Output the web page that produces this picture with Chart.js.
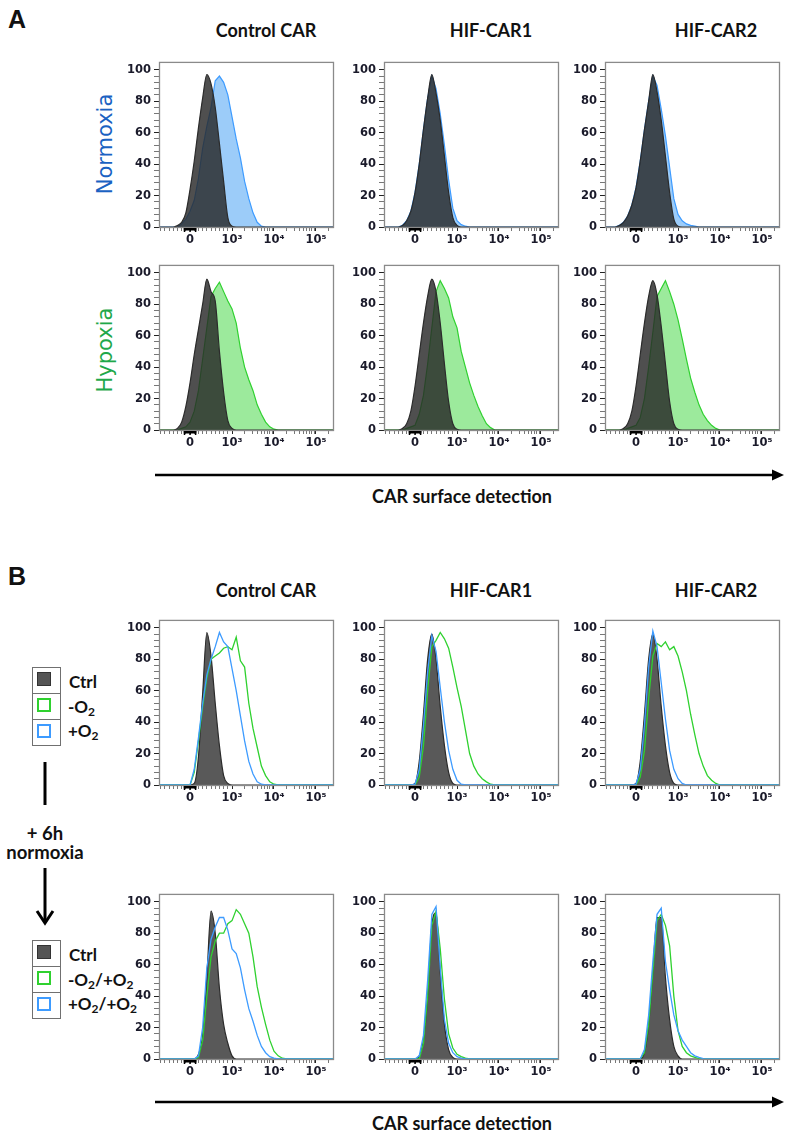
<!DOCTYPE html>
<html>
<head>
<meta charset="utf-8">
<script src="https://cdn.jsdelivr.net/npm/chart.js@4.4.0/dist/chart.umd.min.js"></script>
<style>
  body { margin: 0; background: #fff; }
  #page { position: relative; width: 787px; height: 1133px; background: #fff; overflow: hidden; }
  .t { position: absolute; white-space: nowrap; color: #111; font-family: Lato, "Open Sans", sans-serif; font-weight: bold; }
  .mid { transform: translate(-50%, -50%); }
  .left { transform: translateY(-50%); }
  .letter { font-family: "Liberation Sans", Arial, sans-serif; font-size: 25px; }
  .col { font-size: 18px; }
  .side { font-family: "DejaVu Sans", sans-serif; font-weight: normal; font-size: 21px; transform: translate(-50%, -50%) rotate(-90deg); }
  .leg { font-size: 17px; }
  .leg sub { font-size: 12px; vertical-align: -3px; }
  .note { font-size: 18.5px; }
  .box { position: absolute; width: 27px; border: 1.5px solid #707070; background: #fff; }
  .cell { position: relative; height: 25px; border-top: 1.5px solid #707070; }
  .cell:first-child { border-top: none; }
  .sq { position: absolute; left: 4px; top: 4px; width: 14px; height: 14px; box-sizing: border-box; }
</style>
</head>
<body>
<div id="page">
  <svg width="787" height="1133" style="position:absolute;left:0;top:0">
    <line x1="155" y1="475" x2="776" y2="475" stroke="#000" stroke-width="2.5"/>
    <polygon points="772,469.5 784,475 772,480.5" fill="#000"/>
    <line x1="155" y1="1102" x2="776" y2="1102" stroke="#000" stroke-width="2.5"/>
    <polygon points="772,1096.5 784,1102 772,1107.5" fill="#000"/>
    <line x1="45" y1="762" x2="45" y2="805" stroke="#000" stroke-width="3"/>
    <line x1="45" y1="868" x2="45" y2="922" stroke="#000" stroke-width="3"/>
    <polyline points="37,911 45,923 53,911" fill="none" stroke="#000" stroke-width="3"/>
  </svg>

  <div class="t letter" style="left:8px;top:5px">A</div>
  <div class="t letter" style="left:8px;top:562px">B</div>

  <div class="t col mid" style="left:266px;top:30px">Control CAR</div>
  <div class="t col mid" style="left:491px;top:30px">HIF-CAR1</div>
  <div class="t col mid" style="left:716px;top:30px">HIF-CAR2</div>
  <div class="t col mid" style="left:266px;top:590px">Control CAR</div>
  <div class="t col mid" style="left:491px;top:590px">HIF-CAR1</div>
  <div class="t col mid" style="left:716px;top:590px">HIF-CAR2</div>

  <div class="t side" style="left:105px;top:144px;color:#1a62c2">Normoxia</div>
  <div class="t side" style="left:105px;top:350px;color:#1fa84a">Hypoxia</div>

  <div class="t col mid" style="left:462px;top:496px">CAR surface detection</div>
  <div class="t col mid" style="left:462px;top:1123px">CAR surface detection</div>

  <div class="box" style="left:32px;top:667px">
    <div class="cell"><div class="sq" style="background:#555;border:1.5px solid #333"></div></div>
    <div class="cell"><div class="sq" style="border:2px solid #2fd12f"></div></div>
    <div class="cell"><div class="sq" style="border:2px solid #3d9bff"></div></div>
  </div>
  <div class="t leg left" style="left:69px;top:681px">Ctrl</div>
  <div class="t leg left" style="left:68px;top:707px">-O<sub>2</sub></div>
  <div class="t leg left" style="left:68px;top:731px">+O<sub>2</sub></div>

  <div class="t note mid" style="left:45px;top:833px">+ 6h</div>
  <div class="t note mid" style="left:45px;top:852px">normoxia</div>

  <div class="box" style="left:32px;top:940px">
    <div class="cell"><div class="sq" style="background:#555;border:1.5px solid #333"></div></div>
    <div class="cell"><div class="sq" style="border:2px solid #2fd12f"></div></div>
    <div class="cell"><div class="sq" style="border:2px solid #3d9bff"></div></div>
  </div>
  <div class="t leg left" style="left:69px;top:954px">Ctrl</div>
  <div class="t leg left" style="left:68px;top:980px">-O<sub>2</sub>/+O<sub>2</sub></div>
  <div class="t leg left" style="left:68px;top:1004px">+O<sub>2</sub>/+O<sub>2</sub></div>
</div>

<script>
// x positions of the histogram bins, in display decades (0 = 0, 1 = 10^3, 2 = 10^4, 3 = 10^5)
var XS = [-0.5,-0.4,-0.3,-0.2,-0.1, 0,0.1,0.2,0.3,0.4, 0.5,0.6,0.7,0.8,0.9, 1.0,1.1,1.2,1.3,1.4, 1.5,1.6,1.7,1.8,1.9, 2.0,2.1,2.2,2.3];

// tick labels
var X_LABEL_POS = [0, 1, 2, 3];
var X_LABELS = ['0', '10\u00b3', '10\u2074', '10\u2075'];
var Y_LABELS = [0, 20, 40, 60, 80, 100];

var COLUMNS = ['Control CAR', 'HIF-CAR1', 'HIF-CAR2'];

// A - normoxia (% of max)
var aNormCtrl1 = [0,0,1,3,9, 24,42,63,82,97, 91,76,53,29,6, 0.5,0,0,0,0, 0,0,0,0,0, 0,0,0,0];
var aNormCar1  = [0,0,0,2,5, 10,17,31,50,64, 76,93,96,92,84, 70,56,44,29,18, 9,3,0.5,0,0, 0,0,0,0];
var aNormCtrl2 = [0,0,1,4,10, 22,40,62,82,97, 85,68,45,22,6, 1,0,0,0,0, 0,0,0,0,0, 0,0,0,0];
var aNormCar2  = [0,0,1,4,10, 22,40,62,82,96, 88,72,52,30,12, 4,1.5,0.5,0,0, 0,0,0,0,0, 0,0,0,0];
var aNormCtrl3 = [0,1,3,7,14, 25,42,62,80,97, 86,68,45,22,5, 0.5,0,0,0,0, 0,0,0,0,0, 0,0,0,0];
var aNormCar3  = [0,1,3,7,14, 25,42,62,80,96, 90,75,58,38,18, 8,4,2,1,0.5, 0,0,0,0,0, 0,0,0,0];

// A - hypoxia
var aHypCtrl1 = [0,0,1,5,15, 30,48,64,80,96, 88,82,50,24,6, 1,0,0,0,0, 0,0,0,0,0, 0,0,0,0];
var aHypCar1  = [0,0,0,1,2, 5,12,25,45,65, 85,90,94,88,82, 77,68,52,40,32, 25,16,10,5,2, 0.5,0,0,0];
var aHypCtrl2 = [0,0,1,4,12, 28,48,68,85,96, 88,68,42,18,4, 0.5,0,0,0,0, 0,0,0,0,0, 0,0,0,0];
var aHypCar2  = [0,0,0,1,2, 3,10,22,42,65, 88,95,90,84,72, 65,50,40,30,22, 15,9,4,1.5,0, 0,0,0,0];
var aHypCtrl3 = [0,0,1,4,12, 28,48,68,85,95, 86,66,42,18,4, 0.5,0,0,0,0, 0,0,0,0,0, 0,0,0,0];
var aHypCar3  = [0,0,0,1,2, 3,8,20,40,62, 85,90,95,88,80, 70,58,45,33,24, 16,10,6,3,1, 0,0,0,0];

// B - before the 6h normoxia
var bCtrl1  = [0,0,0,0,0, 0,1,18,58,97, 82,52,25,6,1, 0,0,0,0,0, 0,0,0,0,0, 0,0,0,0];
var bMinus1 = [0,0,0,0,0, 0,8,28,50,68, 80,82,84,87,88, 86,94,79,75,52, 36,24,12,6,2, 0.5,0,0,0];
var bPlus1  = [0,0,0,0,0, 0,10,30,52,70, 80,88,97,91,88, 74,60,44,28,15, 7,2,0.5,0,0, 0,0,0,0];
var bCtrl2  = [0,0,0,0,0, 1,15,45,80,96, 80,50,25,8,1, 0,0,0,0,0, 0,0,0,0,0, 0,0,0,0];
var bMinus2 = [0,0,0,0,0, 0,5,25,60,88, 92,97,93,87,75, 62,50,35,20,12, 7,4,2,0.5,0, 0,0,0,0];
var bPlus2  = [0,0,0,0,0, 0.5,10,38,72,95, 85,62,40,22,10, 3,0.5,0,0,0, 0,0,0,0,0, 0,0,0,0];
var bCtrl3  = [0,0,0,0,0, 1,15,45,80,96, 80,50,25,8,1, 0,0,0,0,0, 0,0,0,0,0, 0,0,0,0];
var bMinus3 = [0,0,0,0,0, 0,5,22,55,82, 90,88,91,86,88, 82,72,60,45,32, 20,12,6,3,1, 0,0,0,0];
var bPlus3  = [0,0,0,0,0, 0.5,10,38,75,98, 88,65,42,22,10, 4,1,0,0,0, 0,0,0,0,0, 0,0,0,0];

// B - after the 6h normoxia
var cCtrl1  = [0,0,0,0,0, 0,0,3,15,52, 94,80,45,22,10, 2,0,0,0,0, 0,0,0,0,0, 0,0,0,0];
var cMinus1 = [0,0,0,0,0, 0,0,1,12,40, 65,75,80,80,86, 88,95,92,86,80, 65,46,33,22,12, 5,2,0.5,0];
var cPlus1  = [0,0,0,0,0, 0,0,2,20,58, 76,84,90,90,82, 70,67,58,44,32, 24,15,8,4,1.5, 0.5,0,0,0];
var cCtrl2  = [0,0,0,0,0, 0,2,12,40,85, 93,55,22,6,1, 0,0,0,0,0, 0,0,0,0,0, 0,0,0,0];
var cMinus2 = [0,0,0,0,0, 0,0,10,40,85, 94,70,38,16,7, 3,1.5,0.5,0,0, 0,0,0,0,0, 0,0,0,0];
var cPlus2  = [0,0,0,0,0, 0,2,15,50,92, 97,58,25,10,4, 1.5,0.5,0,0,0, 0,0,0,0,0, 0,0,0,0];
var cCtrl3  = [0,0,0,0,0, 0,0,4,22,55, 90,90,52,25,8, 2,0,0,0,0, 0,0,0,0,0, 0,0,0,0];
var cMinus3 = [0,0,0,0,0, 0,0,4,22,55, 88,92,85,72,40, 18,8,4,2,1, 0.3,0,0,0,0, 0,0,0,0];
var cPlus3  = [0,0,0,0,0, 0,0,6,28,62, 92,96,62,44,28, 18,12,8,4,2, 1,0.3,0,0,0, 0,0,0,0];

// colours
var GRAY_FILL = 'rgba(40,40,40,0.82)';
var GRAY_LINE = '#2b2b2b';
var BLUE_LINE = '#3d9bff';
var BLUE_FILL = 'rgba(90,170,245,0.6)';
var GREEN_LINE = '#2fd12f';
var GREEN_FILL = 'rgba(90,220,90,0.6)';

// layout
var X_MIN = -0.74, X_MAX = 3.43;
var COL_LEFT = [159, 384, 605];
var ROW_TOP = [55, 258, 613, 887];
var PW = 175, PH = 172;
var PAD_L = 40, PAD_T = 3, PAD_R = 3, PAD_B = 24;

var page = document.getElementById('page');

function pts(ys) {
  var out = [{ x: X_MIN, y: 0 }];
  XS.forEach(function (x, i) { out.push({ x: x, y: ys[i] }); });
  out.push({ x: X_MAX, y: 0 });
  return out;
}

function xTickValues() {
  var v = [];
  for (var k = -7; k <= 9; k++) v.push(k / 10);
  for (var d = 1; d <= 3; d++) {
    for (var m = 1; m <= 9; m++) {
      var t = d + Math.log10(m);
      if (t <= X_MAX) v.push(t);
    }
  }
  return v;
}
function yTickValues() {
  var v = [];
  for (var k = 0; k <= 100; k += 4) v.push(k);
  return v;
}
function isXMajor(v) {
  return X_LABEL_POS.some(function (p) { return Math.abs(p - v) < 1e-6; });
}

var framePlugin = {
  id: 'frame',
  afterDraw: function (chart) {
    var a = chart.chartArea, c = chart.ctx, xs = chart.scales.x;
    c.save();
    c.strokeStyle = '#8a8a8a';
    c.lineWidth = 1.3;
    c.strokeRect(a.left + 0.5, a.top + 0.5, a.right - a.left - 1, a.bottom - a.top);
    // black bar under zero
    var x1 = xs.getPixelForValue(-0.15), x2 = xs.getPixelForValue(0.15);
    c.fillStyle = '#000';
    c.fillRect(x1, a.bottom + 1, x2 - x1, 2.5);
    c.fillRect(x1, a.bottom + 1, 1.5, 4);
    c.fillRect(x2 - 1.5, a.bottom + 1, 1.5, 4);
    c.fillRect((x1 + x2) / 2 - 0.75, a.bottom + 1, 1.5, 4);
    c.restore();
  }
};

var tickFont = { family: 'DejaVu Sans', weight: 'bold', size: 11.5 };

function makePanel(left, top, datasets) {
  var cv = document.createElement('canvas');
  cv.width = PW + PAD_L + PAD_R;
  cv.height = PH + PAD_T + PAD_B;
  cv.style.position = 'absolute';
  cv.style.left = (left - PAD_L) + 'px';
  cv.style.top = (top - PAD_T) + 'px';
  page.appendChild(cv);

  new Chart(cv.getContext('2d'), {
    type: 'line',
    data: { datasets: datasets },
    options: {
      responsive: false,
      animation: false,
      devicePixelRatio: 1,
      layout: { padding: { top: PAD_T, right: PAD_R, left: 0, bottom: 0 } },
      elements: { point: { radius: 0 } },
      plugins: { legend: { display: false }, tooltip: { enabled: false } },
      scales: {
        x: {
          type: 'linear', min: X_MIN, max: X_MAX,
          afterBuildTicks: function (s) { s.ticks = xTickValues().map(function (v) { return { value: v }; }); },
          afterFit: function (s) { s.height = PAD_B; },
          border: { display: false },
          grid: {
            drawOnChartArea: false, tickLength: 4,
            tickColor: function (ctx) { return ctx.tick && isXMajor(ctx.tick.value) ? '#222' : '#777'; }
          },
          ticks: {
            autoSkip: false, maxRotation: 0, padding: 2, color: '#1a1a2a', font: tickFont,
            callback: function (v) {
              for (var i = 0; i < X_LABEL_POS.length; i++) if (Math.abs(X_LABEL_POS[i] - v) < 1e-6) return X_LABELS[i];
              return '';
            }
          }
        },
        y: {
          min: 0, max: 105,
          afterBuildTicks: function (s) { s.ticks = yTickValues().map(function (v) { return { value: v }; }); },
          afterFit: function (s) { s.width = PAD_L; },
          border: { display: false },
          grid: {
            drawOnChartArea: false, tickLength: 5,
            tickColor: function (ctx) { return ctx.tick && Y_LABELS.indexOf(ctx.tick.value) >= 0 ? '#222' : '#777'; }
          },
          ticks: {
            autoSkip: false, padding: 3, color: '#1a1a2a', font: tickFont,
            callback: function (v) { return Y_LABELS.indexOf(v) >= 0 ? String(v) : ''; }
          }
        }
      }
    },
    plugins: [framePlugin]
  });
}

function filled(ys, fillCol, lineCol, order, smooth) {
  return {
    data: pts(ys), fill: 'origin', backgroundColor: fillCol, borderColor: lineCol,
    borderWidth: 1.2, order: order, tension: smooth ? 0.3 : 0,
    cubicInterpolationMode: smooth ? 'monotone' : 'default'
  };
}
function outline(ys, lineCol, order) {
  return { data: pts(ys), fill: false, borderColor: lineCol, borderWidth: 1.3, order: order, tension: 0 };
}

// Panel A row 1: normoxia
[[aNormCtrl1, aNormCar1], [aNormCtrl2, aNormCar2], [aNormCtrl3, aNormCar3]].forEach(function (p, i) {
  makePanel(COL_LEFT[i], ROW_TOP[0], [
    filled(p[0], GRAY_FILL, GRAY_LINE, 0, true),
    filled(p[1], BLUE_FILL, BLUE_LINE, 1, false)
  ]);
});
// Panel A row 2: hypoxia
[[aHypCtrl1, aHypCar1], [aHypCtrl2, aHypCar2], [aHypCtrl3, aHypCar3]].forEach(function (p, i) {
  makePanel(COL_LEFT[i], ROW_TOP[1], [
    filled(p[0], GRAY_FILL, GRAY_LINE, 0, true),
    filled(p[1], GREEN_FILL, GREEN_LINE, 1, false)
  ]);
});
// Panel B row 1
[[bCtrl1, bMinus1, bPlus1], [bCtrl2, bMinus2, bPlus2], [bCtrl3, bMinus3, bPlus3]].forEach(function (p, i) {
  makePanel(COL_LEFT[i], ROW_TOP[2], [
    filled(p[0], 'rgba(60,60,60,0.85)', GRAY_LINE, 2, true),
    outline(p[1], GREEN_LINE, 1),
    outline(p[2], BLUE_LINE, 0)
  ]);
});
// Panel B row 2 (+6h normoxia)
[[cCtrl1, cMinus1, cPlus1], [cCtrl2, cMinus2, cPlus2], [cCtrl3, cMinus3, cPlus3]].forEach(function (p, i) {
  makePanel(COL_LEFT[i], ROW_TOP[3], [
    filled(p[0], 'rgba(60,60,60,0.85)', GRAY_LINE, 2, true),
    outline(p[1], GREEN_LINE, 1),
    outline(p[2], BLUE_LINE, 0)
  ]);
});
</script>
</body>
</html>
